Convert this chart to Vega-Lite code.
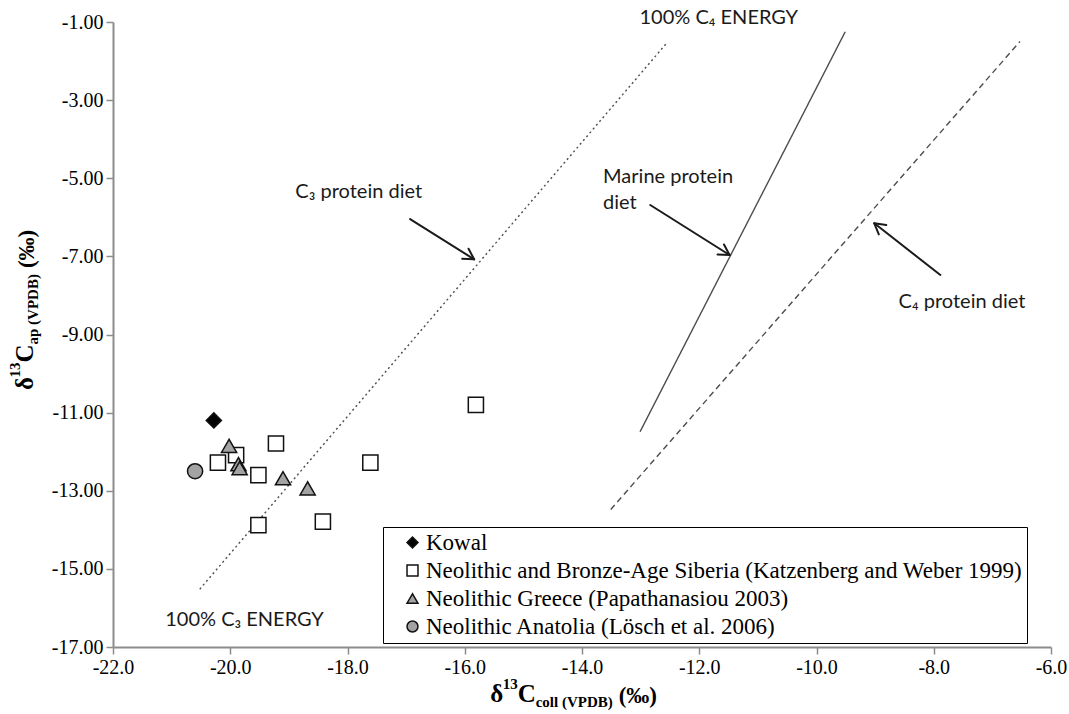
{
  "$schema": "https://vega.github.io/schema/vega-lite/v6.json",
  "width": 938,
  "height": 625,
  "autosize": {"type": "none"},
  "padding": {"left": 113, "top": 22, "right": 18, "bottom": 67},
  "background": "white",
  "config": {"view": {"stroke": null}, "font": "Liberation Serif"},
  "datasets": {
    "points": [
      {"group": "Kowal", "x": -20.28, "y": -11.2},
      {"group": "Neolithic and Bronze-Age Siberia (Katzenberg and Weber 1999)", "x": -20.21, "y": -12.28},
      {"group": "Neolithic and Bronze-Age Siberia (Katzenberg and Weber 1999)", "x": -19.9, "y": -12.09},
      {"group": "Neolithic and Bronze-Age Siberia (Katzenberg and Weber 1999)", "x": -19.22, "y": -11.79},
      {"group": "Neolithic and Bronze-Age Siberia (Katzenberg and Weber 1999)", "x": -19.52, "y": -12.6},
      {"group": "Neolithic and Bronze-Age Siberia (Katzenberg and Weber 1999)", "x": -17.61, "y": -12.28},
      {"group": "Neolithic and Bronze-Age Siberia (Katzenberg and Weber 1999)", "x": -19.52, "y": -13.88},
      {"group": "Neolithic and Bronze-Age Siberia (Katzenberg and Weber 1999)", "x": -18.42, "y": -13.79},
      {"group": "Neolithic and Bronze-Age Siberia (Katzenberg and Weber 1999)", "x": -15.81, "y": -10.8},
      {"group": "Neolithic Greece (Papathanasiou 2003)", "x": -20.02, "y": -11.85},
      {"group": "Neolithic Greece (Papathanasiou 2003)", "x": -19.86, "y": -12.32},
      {"group": "Neolithic Greece (Papathanasiou 2003)", "x": -19.84, "y": -12.42},
      {"group": "Neolithic Greece (Papathanasiou 2003)", "x": -19.1, "y": -12.68},
      {"group": "Neolithic Greece (Papathanasiou 2003)", "x": -18.68, "y": -12.94},
      {"group": "Neolithic Anatolia (Lösch et al. 2006)", "x": -20.6, "y": -12.5}
    ],
    "refLines": [
      {"line": "C3", "x": -20.52, "y": -15.52, "x2": -12.55, "y2": -1.53},
      {"line": "Marine", "x": -13.01, "y": -11.49, "x2": -9.51, "y2": -1.25},
      {"line": "C4", "x": -13.51, "y": -13.48, "x2": -6.53, "y2": -1.5}
    ],
    "arrows": [
      {"x": -16.932, "y": -6.044, "x2": -15.84, "y2": -7.075},
      {"x": -15.935, "y": -6.804, "x2": -15.84, "y2": -7.075},
      {"x": -16.044, "y": -7.062, "x2": -15.84, "y2": -7.075},
      {"x": -12.836, "y": -5.685, "x2": -11.483, "y2": -6.965},
      {"x": -11.578, "y": -6.694, "x2": -11.483, "y2": -6.965},
      {"x": -11.688, "y": -6.952, "x2": -11.483, "y2": -6.965},
      {"x": -7.887, "y": -7.477, "x2": -9.014, "y2": -6.154},
      {"x": -8.937, "y": -6.438, "x2": -9.014, "y2": -6.154},
      {"x": -8.81, "y": -6.197, "x2": -9.014, "y2": -6.154}
    ],
    "labels": [
      {"text": "100% C₄ ENERGY", "x": -13.02, "y": -0.9},
      {"text": "C₃ protein diet", "x": -18.89, "y": -5.35},
      {"text": "Marine protein", "x": -13.64, "y": -4.97},
      {"text": "diet", "x": -13.64, "y": -5.63},
      {"text": "C₄ protein diet", "x": -8.6, "y": -8.17},
      {"text": "100% C₃ ENERGY", "x": -21.11, "y": -16.31}
    ],
    "xTitleAnchor": [{"x": -14, "y": -17}],
    "yTitleAnchor": [{"x": -22, "y": -9}]
  },
  "encoding": {
    "x": {
      "field": "x", "type": "quantitative",
      "scale": {"domain": [-22, -6], "nice": false, "zero": false},
      "axis": {
        "title": null, "grid": false,
        "values": [-22, -20, -18, -16, -14, -12, -10, -8, -6],
        "labelExpr": "replace(format(datum.value, '.1f'), '\u2212', '-')",
        "domainColor": "#8c8c8c", "domainWidth": 2,
        "tickColor": "#8c8c8c", "tickWidth": 1.5, "tickSize": 7,
        "labelFont": "Liberation Serif", "labelFontSize": 20, "labelColor": "black",
        "labelPadding": 3, "labelFlush": false, "labelOverlap": false
      }
    },
    "y": {
      "field": "y", "type": "quantitative",
      "scale": {"domain": [-17, -1], "nice": false, "zero": false},
      "axis": {
        "title": null, "grid": false,
        "values": [-17, -15, -13, -11, -9, -7, -5, -3, -1],
        "labelExpr": "replace(format(datum.value, '.2f'), '\u2212', '-')",
        "domainColor": "#8c8c8c", "domainWidth": 2,
        "tickColor": "#8c8c8c", "tickWidth": 1.5, "tickSize": 7,
        "labelFont": "Liberation Serif", "labelFontSize": 20, "labelColor": "black",
        "labelPadding": 3, "labelFlush": false, "labelOverlap": false
      }
    }
  },
  "layer": [
    {
      "data": {"name": "refLines"},
      "mark": {"type": "rule", "stroke": "#4d4d4d", "strokeWidth": 1.4},
      "encoding": {
        "x2": {"field": "x2"},
        "y2": {"field": "y2"},
        "strokeDash": {
          "field": "line", "type": "nominal",
          "scale": {"domain": ["C3", "Marine", "C4"], "range": [[2, 3], [1, 0], [6, 4]]},
          "legend": null
        }
      }
    },
    {
      "data": {"name": "arrows"},
      "mark": {"type": "rule", "stroke": "#1a1a1a", "strokeWidth": 2, "strokeCap": "round"},
      "encoding": {
        "x2": {"field": "x2"},
        "y2": {"field": "y2"}
      }
    },
    {
      "data": {"name": "points"},
      "mark": {"type": "point", "filled": true, "stroke": "#111111", "strokeWidth": 1.5, "size": 230, "opacity": 1},
      "encoding": {
        "shape": {
          "field": "group", "type": "nominal",
          "scale": {
            "domain": ["Kowal", "Neolithic and Bronze-Age Siberia (Katzenberg and Weber 1999)", "Neolithic Greece (Papathanasiou 2003)", "Neolithic Anatolia (Lösch et al. 2006)"],
            "range": ["diamond", "square", "triangle-up", "circle"]
          },
          "legend": {
            "title": null, "orient": "none", "legendX": 270, "legendY": 505,
            "strokeColor": "black", "fillColor": "white", "padding": 4,
            "labelFont": "Liberation Serif", "labelFontSize": 23, "labelColor": "black", "labelLimit": 800,
            "symbolSize": 120, "rowPadding": 4, "labelOffset": 2, "symbolOffset": 14,
            "encode": {"symbols": {"update": {"stroke": {"value": "#111111"}, "strokeWidth": {"value": 1}, "opacity": {"value": 1}}}}
          }
        },
        "fill": {
          "field": "group", "type": "nominal",
          "scale": {
            "domain": ["Kowal", "Neolithic and Bronze-Age Siberia (Katzenberg and Weber 1999)", "Neolithic Greece (Papathanasiou 2003)", "Neolithic Anatolia (Lösch et al. 2006)"],
            "range": ["#000000", "#ffffff", "#a3a3a3", "#a3a3a3"]
          },
          "legend": {
            "title": null, "orient": "none", "legendX": 270, "legendY": 505,
            "strokeColor": "black", "fillColor": "white", "padding": 4,
            "labelFont": "Liberation Serif", "labelFontSize": 23, "labelColor": "black", "labelLimit": 800,
            "symbolSize": 120, "rowPadding": 4, "labelOffset": 2, "symbolOffset": 14,
            "encode": {"symbols": {"update": {"stroke": {"value": "#111111"}, "strokeWidth": {"value": 1}, "opacity": {"value": 1}}}}
          }
        }
      }
    },
    {
      "data": {"name": "labels"},
      "mark": {"type": "text", "font": "Lato", "fontSize": 20, "color": "#1a1a1a", "align": "left", "baseline": "middle"},
      "encoding": {"text": {"field": "text"}}
    },
    {
      "data": {"name": "xTitleAnchor"},
      "mark": {"type": "text", "text": "δ", "font": "Liberation Serif", "fontWeight": "bold", "fontSize": 25, "align": "left", "baseline": "alphabetic", "dx": -91.8, "dy": 55, "color": "black"}
    },
    {
      "data": {"name": "xTitleAnchor"},
      "mark": {"type": "text", "text": "13", "font": "Liberation Serif", "fontWeight": "bold", "fontSize": 15, "align": "left", "baseline": "alphabetic", "dx": -79.3, "dy": 42, "color": "black"}
    },
    {
      "data": {"name": "xTitleAnchor"},
      "mark": {"type": "text", "text": "C", "font": "Liberation Serif", "fontWeight": "bold", "fontSize": 25, "align": "left", "baseline": "alphabetic", "dx": -64.3, "dy": 55, "color": "black"}
    },
    {
      "data": {"name": "xTitleAnchor"},
      "mark": {"type": "text", "text": "coll (VPDB)", "font": "Liberation Serif", "fontWeight": "bold", "fontSize": 15, "align": "left", "baseline": "alphabetic", "dx": -46.3, "dy": 60, "color": "black"}
    },
    {
      "data": {"name": "xTitleAnchor"},
      "mark": {"type": "text", "text": "(‰)", "font": "Liberation Serif", "fontWeight": "bold", "fontSize": 23, "align": "left", "baseline": "alphabetic", "dx": 36.7, "dy": 56, "color": "black"}
    },
    {
      "data": {"name": "yTitleAnchor"},
      "mark": {"type": "text", "text": "δ", "angle": 270, "font": "Liberation Serif", "fontWeight": "bold", "fontSize": 25, "align": "left", "baseline": "alphabetic", "dx": -55.5, "dy": -80, "color": "black"}
    },
    {
      "data": {"name": "yTitleAnchor"},
      "mark": {"type": "text", "text": "13", "angle": 270, "font": "Liberation Serif", "fontWeight": "bold", "fontSize": 15, "align": "left", "baseline": "alphabetic", "dx": -43, "dy": -93, "color": "black"}
    },
    {
      "data": {"name": "yTitleAnchor"},
      "mark": {"type": "text", "text": "C", "angle": 270, "font": "Liberation Serif", "fontWeight": "bold", "fontSize": 25, "align": "left", "baseline": "alphabetic", "dx": -28, "dy": -80, "color": "black"}
    },
    {
      "data": {"name": "yTitleAnchor"},
      "mark": {"type": "text", "text": "ap (VPDB)", "angle": 270, "font": "Liberation Serif", "fontWeight": "bold", "fontSize": 15, "align": "left", "baseline": "alphabetic", "dx": -10, "dy": -75, "color": "black"}
    },
    {
      "data": {"name": "yTitleAnchor"},
      "mark": {"type": "text", "text": "(‰)", "angle": 270, "font": "Liberation Serif", "fontWeight": "bold", "fontSize": 23, "align": "left", "baseline": "alphabetic", "dx": 66.4, "dy": -79, "color": "black"}
    }
  ]
}
